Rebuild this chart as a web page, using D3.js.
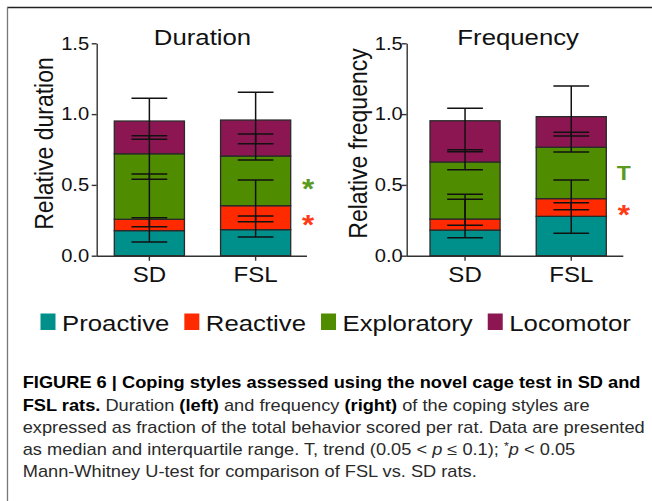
<!DOCTYPE html>
<html>
<head>
<meta charset="utf-8">
<script src="https://cdn.jsdelivr.net/npm/d3@7"></script>
<style>
  body { margin: 0; background: #fff; }
  svg { display: block; font-family: "Liberation Sans", Arial, sans-serif; }
</style>
</head>
<body>
<svg width="652" height="501"></svg>
<script>
// groups on the x axis and the four coping styles (stack order, bottom to top)
const groups = ["SD", "FSL"];
const styles = ["Proactive", "Reactive", "Exploratory", "Locomotor"];
const colors = ["#00908c", "#ff2a00", "#508c00", "#8c1652"];

// relative duration: medians of each style, and their quartiles
const durationSD    = [0.177, 0.080, 0.463, 0.231];
const durationFSL   = [0.184, 0.169, 0.351, 0.254];
const durationSDq1  = [0.097, 0.028, 0.283, 0.102];
const durationSDq3  = [0.268, 0.400, 0.590, 0.392];
const durationFSLq1 = [0.132, 0.056, 0.323, 0.087];
const durationFSLq3 = [0.280, 0.351, 0.506, 0.450];

// relative frequency
const frequencySD    = [0.181, 0.078, 0.403, 0.291];
const frequencyFSL   = [0.278, 0.125, 0.363, 0.216];
const frequencySDq1  = [0.127, 0.034, 0.348, 0.072];
const frequencySDq3  = [0.398, 0.253, 0.490, 0.380];
const frequencyFSLq1 = [0.158, 0.047, 0.329, 0.079];
const frequencyFSLq3 = [0.374, 0.257, 0.468, 0.432];

// significance of FSL vs SD per style
const durationMarks  = ["", "*", "*", ""];
const frequencyMarks = ["", "*", "T", ""];

const yTicks = [0, 0.5, 1.0, 1.5];

var svg = d3.select("svg");
// the figure is a bit wider than tall, stretch the text the same way
const SX = 1.12;

function txt(parent, x, y, s, size, o) {
  o = o || {};
  return parent.append("text")
    .attr("transform", "translate(" + x + "," + y + ") scale(" + (o.sx || SX) + ",1)" + (o.rot ? " rotate(-90)" : ""))
    .attr("text-anchor", o.anchor || "start")
    .attr("font-size", size)
    .attr("font-weight", o.bold ? "bold" : null)
    .attr("fill", o.fill || "#111")
    .text(s);
}

// frame of the figure
svg.append("line").attr("x1", 7).attr("x2", 652).attr("y1", 7.5).attr("y2", 7.5)
    .attr("stroke", "#222").attr("stroke-width", 1.3);
svg.append("line").attr("x1", 7.5).attr("x2", 7.5).attr("y1", 7).attr("y2", 501)
    .attr("stroke", "#777").attr("stroke-width", 1.3);

var y = d3.scaleLinear().domain([0, 1.5]).range([255.7, 43.3]);

function drawPanel(p) {
  var g = svg.append("g");

  var x = d3.scaleBand()
      .domain(groups)
      .range([p.barStart, p.barEnd])
      .paddingInner(0.34)
      .paddingOuter(0);

  // rows for d3.stack
  var rows = groups.map(function(gr, gi) {
    var r = { group: gr };
    styles.forEach(function(s, i) { r[s] = p.medians[gi][i]; });
    return r;
  });
  var series = d3.stack().keys(styles)(rows);

  // y axis
  var ya = g.append("g")
      .attr("transform", "translate(" + p.axisX + ",0)")
      .call(d3.axisLeft(y).tickValues(yTicks).tickFormat(d3.format(".1f")).tickSize(5).tickSizeOuter(0));
  ya.select(".domain").attr("stroke", "#333").attr("stroke-width", 1.4);
  ya.selectAll(".tick line").attr("stroke", "#333").attr("stroke-width", 1.4);
  ya.selectAll(".tick text")
      .attr("font-size", 18)
      .attr("font-family", "Liberation Sans, Arial, sans-serif")
      .attr("fill", "#111")
      .attr("x", -p.tickGap / SX)
      .attr("transform", "scale(" + SX + ",1)");

  // x axis
  var xa = g.append("g")
      .attr("transform", "translate(0," + y(0) + ")")
      .call(d3.axisBottom(x).tickSize(5).tickSizeOuter(0));
  xa.select(".domain").attr("d", "M" + p.axisX + ",0.5H" + p.xEnd)
      .attr("stroke", "#333").attr("stroke-width", 1.4);
  xa.selectAll(".tick line").attr("stroke", "#333").attr("stroke-width", 1.4);
  xa.selectAll(".tick text")
      .attr("font-size", 21.5)
      .attr("font-family", "Liberation Sans, Arial, sans-serif")
      .attr("fill", "#111")
      .attr("y", 26.3).attr("dy", 0)
      .attr("transform", "scale(" + SX + ",1)")
      .attr("x", 0);

  // stacked bars
  g.append("g").selectAll("g")
    .data(series)
    .enter().append("g")
      .attr("fill", function(d, i) { return colors[i]; })
    .selectAll("rect")
    .data(function(d) { return d; })
    .enter().append("rect")
      .attr("x", function(d) { return x(d.data.group); })
      .attr("width", x.bandwidth())
      .attr("y", function(d) { return y(d[1]); })
      .attr("height", function(d) { return y(d[0]) - y(d[1]); })
      .attr("stroke", "#2a2a2a")
      .attr("stroke-width", 1.3);

  // median + interquartile range of each segment, drawn at its top
  var capW = x.bandwidth() * 0.51;
  var eb = g.append("g").attr("stroke", "#111").attr("stroke-width", 1.5);
  series.forEach(function(s, i) {
    s.forEach(function(d, gi) {
      var med = p.medians[gi][i];
      var lo = d[1] - (med - p.q1[gi][i]);
      var hi = d[1] + (p.q3[gi][i] - med);
      var cx = x(d.data.group) + x.bandwidth() / 2;
      eb.append("line").attr("x1", cx).attr("x2", cx).attr("y1", y(lo)).attr("y2", y(hi));
      [lo, hi].forEach(function(v) {
        eb.append("line").attr("x1", cx - capW / 2).attr("x2", cx + capW / 2)
          .attr("y1", y(v)).attr("y2", y(v));
      });
    });
  });

  // significance marks next to the FSL bar
  series.forEach(function(s, i) {
    var m = p.marks[i];
    if (!m) return;
    var d = s[1];
    var cy = y((d[0] + d[1]) / 2);
    var mx = x("FSL") + x.bandwidth() + 17.5;
    if (m === "*") {
      txt(g, mx, cy + 0.6 * 28, m, 28, { anchor: "middle", bold: true, fill: colors[i] === "#508c00" ? "#5a9a1e" : "#ff3a14" });
    } else {
      txt(g, mx, cy + 7.3, m, 20.5, { anchor: "middle", bold: true, fill: "#5a9a1e" });
    }
  });

  // titles
  txt(g, (p.barStart + p.barEnd) / 2, 45, p.title, 23, { anchor: "middle" });
  txt(g, p.axisX - p.labelGap, 143.5, p.ylabel, 23, { anchor: "middle", rot: true });
}

drawPanel({
  title: "Duration", ylabel: "Relative duration",
  axisX: 96.7, xEnd: 307, barStart: 114.3, barEnd: 290.7, tickGap: 7.5, labelGap: 43.3,
  medians: [durationSD, durationFSL],
  q1: [durationSDq1, durationFSLq1],
  q3: [durationSDq3, durationFSLq3],
  marks: durationMarks
});

drawPanel({
  title: "Frequency", ylabel: "Relative frequency",
  axisX: 406.7, xEnd: 623.3, barStart: 430, barEnd: 606.3, tickGap: 4, labelGap: 40,
  medians: [frequencySD, frequencyFSL],
  q1: [frequencySDq1, frequencyFSLq1],
  q3: [frequencySDq3, frequencyFSLq3],
  marks: frequencyMarks
});

// legend
var lg = svg.append("g");
var lx = 40.5;
styles.forEach(function(s, i) {
  lg.append("rect").attr("x", lx).attr("y", 313.5).attr("width", 15).attr("height", 16.5).attr("fill", colors[i]);
  var t = txt(lg, lx + 21.5, 331, s, 23, { fill: "#111" });
  lx += 21.5 + t.node().getComputedTextLength() * SX + 15;
});

// caption
var caption = [
  [["FIGURE 6 | Coping styles assessed using the novel cage test in SD and", "b"]],
  [["FSL rats.", "b"], [" Duration ", ""], ["(left)", "b"], [" and frequency ", ""], ["(right)", "b"], [" of the coping styles are", ""]],
  [["expressed as fraction of the total behavior scored per rat. Data are presented", ""]],
  [["as median and interquartile range. T, trend (0.05 < ", ""], ["p", "i"], [" \u2264 0.1); ", ""], ["*", "s"], ["p", "i"], [" < 0.05", ""]],
  [["Mann-Whitney U-test for comparison of FSL vs. SD rats.", ""]]
];
var cg = svg.append("g");
caption.forEach(function(line, li) {
  var t = cg.append("text")
      .attr("transform", "translate(22.7," + (388.3 + li * 22.25) + ") scale(1.14,1)")
      .attr("font-size", 16)
      .attr("fill", "#2a2a2a");
  line.forEach(function(seg) {
    var ts = t.append("tspan").text(seg[0]);
    if (seg[1] === "b") ts.attr("font-weight", "bold").attr("fill", "#000");
    if (seg[1] === "i") ts.attr("font-style", "italic");
    if (seg[1] === "s") ts.attr("font-size", 11).attr("dy", -5);
    if (seg[1] === "i" && li === 3 && line.indexOf(seg) > 3) ts.attr("dy", 5);
  });
});
</script>
</body>
</html>
